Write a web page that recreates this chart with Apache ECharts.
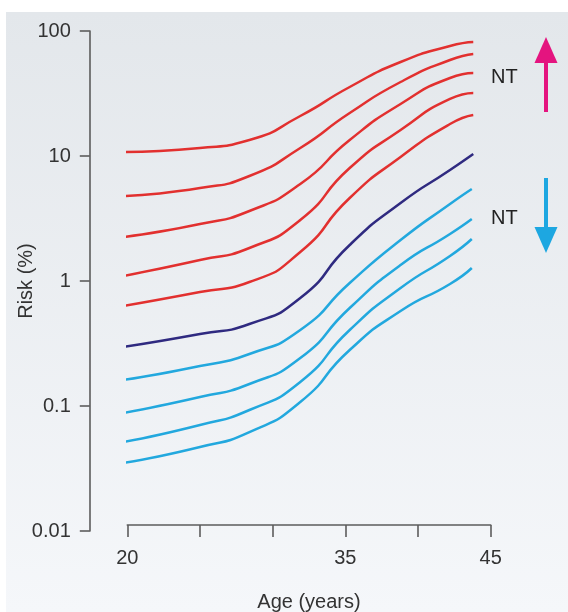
<!DOCTYPE html>
<html>
<head>
<meta charset="utf-8">
<script src="https://cdn.jsdelivr.net/npm/echarts@6/dist/echarts.min.js"></script>
<style>
html,body{margin:0;padding:0;background:#fff;}
#chart{width:568px;height:612px;}
</style>
</head>
<body>
<div id="chart"></div>
<script>
// Ages (years) at which the curves were read
var ages = [19.7, 25, 28.4, 31.9, 35.3, 38.8, 42.2, 43.8];
var agesBlue = [19.7, 25, 28.4, 31.9, 35.3, 38.8, 42.2, 43.7];

// Risk (%) curves, red = increased NT, purple = baseline, blue = decreased NT
var red1 = [10.76, 11.59, 13.43, 20.89, 35.65, 56.49, 75.86, 81.66];
var red2 = [4.786, 5.546, 6.918, 11.59, 22.08, 39.08, 58.61, 65.46];
var red3 = [2.249, 2.858, 3.631, 5.970, 13.43, 26.06, 42.07, 46.13];
var red4 = [1.096, 1.472, 1.837, 3.076, 8.017, 16.14, 28.58, 31.92];
var red5 = [0.631, 0.817, 0.982, 1.706, 4.613, 9.817, 18.03, 21.28];
var base = [0.2965, 0.3767, 0.4529, 0.7311, 1.941, 4.207, 7.727, 10.38];
var blue1 = [0.1614, 0.2089, 0.2606, 0.4055, 0.9638, 2.128, 4.130, 5.445];
var blue2 = [0.0879, 0.1180, 0.1500, 0.2421, 0.6081, 1.343, 2.377, 3.133];
var blue3 = [0.0515, 0.0705, 0.0929, 0.1556, 0.4055, 0.8790, 1.585, 2.168];
var blue4 = [0.0350, 0.0470, 0.0619, 0.1076, 0.2805, 0.5754, 0.9462, 1.270];

var yTickLabels = ['0.01', '0.1', '1', '10', '100'];
var xTickLabels = {20: '20', 35: '35', 45: '45'};

var RED = '#e2302f', PURPLE = '#2f2a80', BLUE = '#22a8de';
var FONT = 'Liberation Sans, Arial, sans-serif';
var TXT = '#333333', AX = '#5c5c5c';

function pairs(xs, ys) { return ys.map(function (v, i) { return [xs[i], v]; }); }

function mk(xs, ys, color) {
  return {
    type: 'line', data: pairs(xs, ys), showSymbol: false, symbol: 'none',
    smooth: 0.6, clip: false,
    lineStyle: { color: color, width: 2.5 }, silent: true, animation: false
  };
}

var chart = echarts.init(document.getElementById('chart'), null, { renderer: 'canvas' });
chart.setOption({
  animation: false,
  grid: { left: 127.3, right: 77.3, top: 31, bottom: 81, containLabel: false, outerBoundsMode: 'none' },
  xAxis: {
    type: 'value', min: 20, max: 45, interval: 5, offset: -6,
    name: 'Age (years)', nameLocation: 'middle', nameGap: 67, nameMoveOverlap: false,
    nameTextStyle: { color: TXT, fontFamily: FONT, fontSize: 20 },
    axisLine: { show: true, lineStyle: { color: AX, width: 1.6 } },
    axisTick: { show: true, length: 12, inside: false, lineStyle: { color: AX, width: 1.6 } },
    axisLabel: { margin: 23, color: TXT, fontFamily: FONT, fontSize: 20,
      formatter: function (v) { return xTickLabels[Math.round(v)] || ''; } },
    splitLine: { show: false }
  },
  yAxis: {
    type: 'log', logBase: 10, min: 0.01, max: 100, offset: 37.5,
    name: 'Risk (%)', nameLocation: 'middle', nameGap: 53, nameRotate: 90, nameMoveOverlap: false,
    nameTextStyle: { color: TXT, fontFamily: FONT, fontSize: 20 },
    axisLine: { show: true, lineStyle: { color: AX, width: 1.6 } },
    axisTick: { show: true, length: 10, lineStyle: { color: AX, width: 1.6 } },
    axisLabel: { margin: 19, color: TXT, fontFamily: FONT, fontSize: 20,
      formatter: function (v, i) { return yTickLabels[i]; } },
    splitLine: { show: false }
  },
  graphic: [
    { type: 'rect', z: -10, silent: true,
      shape: { x: 6, y: 12, width: 562, height: 600 },
      style: { fill: new echarts.graphic.LinearGradient(0, 0, 0, 1, [
        { offset: 0, color: '#e3e7eb' }, { offset: 1, color: '#f5f7fa' }]) } },
    { type: 'text', left: 491, top: 67, style: { text: 'NT', fill: '#222', font: '20px Liberation Sans, Arial, sans-serif' } },
    { type: 'text', left: 491, top: 208, style: { text: 'NT', fill: '#222', font: '20px Liberation Sans, Arial, sans-serif' } },
    { type: 'line', shape: { x1: 546, y1: 112, x2: 546, y2: 60 }, style: { stroke: '#e4147f', lineWidth: 4 } },
    { type: 'polygon', shape: { points: [[546, 37], [557.5, 63], [534.5, 63]] }, style: { fill: '#e4147f' } },
    { type: 'line', shape: { x1: 546, y1: 178, x2: 546, y2: 230 }, style: { stroke: '#1da7e1', lineWidth: 4 } },
    { type: 'polygon', shape: { points: [[546, 253], [557.5, 227], [534.5, 227]] }, style: { fill: '#1da7e1' } }
  ],
  series: [
    mk(ages, red1, RED), mk(ages, red2, RED), mk(ages, red3, RED), mk(ages, red4, RED), mk(ages, red5, RED),
    mk(ages, base, PURPLE),
    mk(agesBlue, blue1, BLUE), mk(agesBlue, blue2, BLUE), mk(agesBlue, blue3, BLUE), mk(agesBlue, blue4, BLUE)
  ]
});
</script>
</body>
</html>
